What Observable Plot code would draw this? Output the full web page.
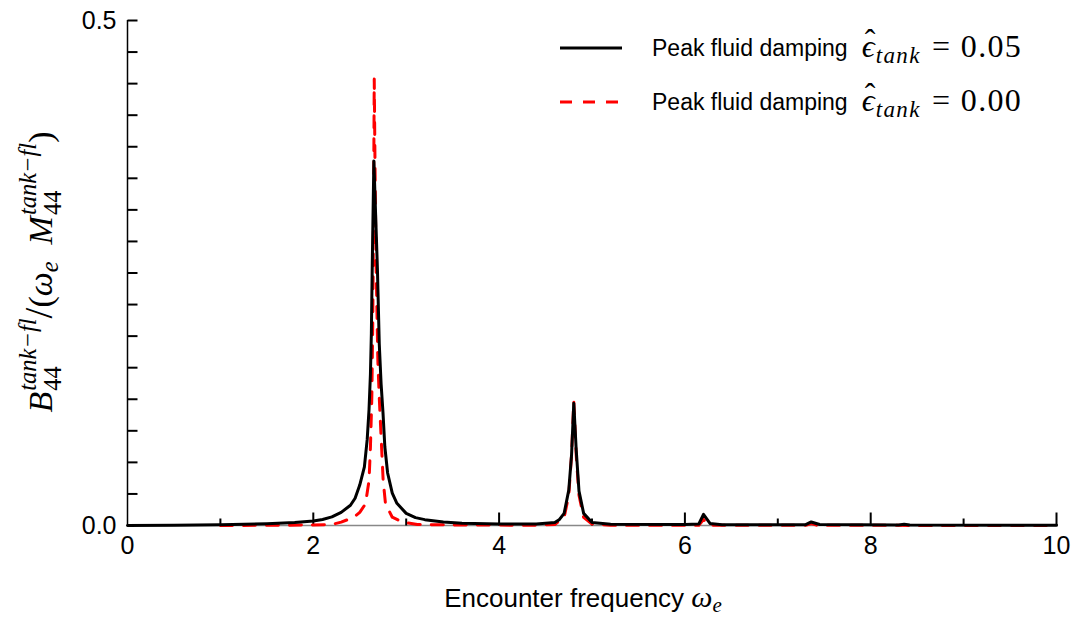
<!DOCTYPE html>
<html>
<head>
<meta charset="utf-8">
<script src="https://cdn.jsdelivr.net/npm/d3@7"></script>
<script src="https://cdn.jsdelivr.net/npm/@observablehq/plot@0.6"></script>
<style>
  body { margin: 0; background: #fff; }
  #wrap { position: relative; width: 1077px; height: 617px; font-family: "Liberation Sans", Arial, sans-serif; color: #000; }
  .math { font-family: "Liberation Serif", "DejaVu Serif", serif; }
  .it { font-style: italic; }
  .ss { display: inline-block; vertical-align: -0.36em; font-size: 0.72em; line-height: 1.0; text-align: left; margin-left: 1px; }
  .ss span { display: block; }
  .sub { font-size: 0.72em; vertical-align: -0.25em; }
  .hat { position: relative; display: inline-block; }
  .hat::after { content: "ˆ"; position: absolute; left: 0.1em; top: -0.18em; font-style: normal; }
  #ylabel { position: absolute; left: 41px; top: 272px; transform: translate(-50%, -50%) rotate(-90deg); white-space: nowrap; font-size: 34px; }
  #xlabel { position: absolute; left: 583px; top: 584px; transform: translateX(-50%); white-space: nowrap; font-size: 26px; line-height: 26px; }
  .leg { position: absolute; left: 558px; white-space: nowrap; font-size: 23px; display: flex; align-items: center; }
  .leg svg { margin-right: 28px; }
  .gap { display: inline-block; width: 14px; }
  .lm { font-size: 32px; letter-spacing: 1.3px; }
  .eq { margin: 0 0.3em 0 0.35em; }
</style>
</head>
<body>
<div id="wrap"></div>
<script>
// Encounter frequency (x) and damping coefficient (y) for the damped tank (epsilon = 0.05)
const xDamped = [0, 0.5, 1.0, 1.5, 1.8, 2.0, 2.1, 2.2, 2.3, 2.4, 2.45, 2.5, 2.55, 2.58, 2.6, 2.615, 2.625, 2.635, 2.652, 2.67, 2.69, 2.71, 2.73, 2.75, 2.77, 2.8, 2.85, 2.9, 3.0, 3.1, 3.2, 3.4, 3.6, 4.0, 4.4, 4.6, 4.65, 4.7, 4.75, 4.78, 4.804, 4.83, 4.86, 4.91, 5.0, 5.2, 6.0, 6.15, 6.2, 6.27, 6.4, 7.3, 7.36, 7.45, 8.3, 8.36, 8.42, 10];
const yDamped = [0, 0.0003, 0.0008, 0.0018, 0.003, 0.0045, 0.006, 0.0085, 0.013, 0.020, 0.027, 0.040, 0.058, 0.085, 0.115, 0.15, 0.19, 0.26, 0.361, 0.31, 0.255, 0.18, 0.14, 0.112, 0.078, 0.052, 0.032, 0.022, 0.012, 0.0078, 0.0058, 0.0035, 0.0022, 0.0015, 0.0015, 0.003, 0.006, 0.012, 0.035, 0.07, 0.121, 0.075, 0.034, 0.012, 0.003, 0.0012, 0.001, 0.0015, 0.011, 0.002, 0.0008, 0.0008, 0.0035, 0.001, 0.0005, 0.0012, 0.0005, 0.0003];

// Undamped tank (epsilon = 0.00)
const xUndamped = [1.0, 1.5, 2.0, 2.2, 2.3, 2.436, 2.5, 2.562, 2.6, 2.615, 2.63, 2.64, 2.648, 2.656, 2.664, 2.675, 2.695, 2.71, 2.735, 2.752, 2.777, 2.85, 2.96, 3.12, 3.5, 4.4, 4.6, 4.7, 4.75, 4.78, 4.804, 4.83, 4.86, 4.91, 5.0, 5.2, 6.15, 6.2, 6.25, 7.3, 7.36, 7.42, 10];
const yUndamped = [0, 0.0002, 0.0005, 0.001, 0.0033, 0.0082, 0.013, 0.0215, 0.0446, 0.0776, 0.127, 0.2, 0.3, 0.442, 0.36, 0.262, 0.163, 0.127, 0.0776, 0.0446, 0.0215, 0.0082, 0.0033, 0.001, 0.0005, 0.0003, 0.001, 0.008, 0.03, 0.07, 0.123, 0.07, 0.03, 0.008, 0.0015, 0.0003, 0.0003, 0.006, 0.0003, 0.0002, 0.002, 0.0002, 0];

const seriesNames = ["0.05", "0.00"];
const seriesColors = ["#000000", "#ff0000"];

const xMajorTicks = [0, 2, 4, 6, 8, 10];
const xMinorTicks = [1, 3, 5, 7, 9];
const yMinorTicks = [0.03125, 0.0625, 0.09375, 0.125, 0.15625, 0.1875, 0.21875, 0.25, 0.28125, 0.3125, 0.34375, 0.375, 0.40625, 0.4375, 0.46875, 0.5];
const yLabelTicks = [0, 0.5];

const damped = xDamped.map((x, i) => ({x, y: yDamped[i]}));
const undamped = xUndamped.map((x, i) => ({x, y: yUndamped[i]}));

// frame geometry (px); inward tick lengths (px) converted to data units
const W = 1077, H = 617, mL = 127, mR = 21, mT = 20, mB = 92;
const xDomain = [0, 10], yDomain = [0, 0.5];
const pxX = (xDomain[1] - xDomain[0]) / (W - mL - mR);
const pxY = (yDomain[1] - yDomain[0]) / (H - mT - mB);
const xTickRows = [...xMajorTicks.filter(d => d > 0).map(v => ({v, len: 13})), ...xMinorTicks.map(v => ({v, len: 7}))];
const yTickRows = yMinorTicks.map(v => ({v, len: 10}));

const chart = Plot.plot({
  width: W,
  height: H,
  marginLeft: mL,
  marginRight: mR,
  marginTop: mT,
  marginBottom: mB,
  style: {fontFamily: "'Liberation Sans', Arial, sans-serif", fontSize: "25px", color: "#000", background: "#fff"},
  x: {domain: xDomain},
  y: {domain: yDomain},
  marks: [
    Plot.ruleY([0], {stroke: "#888", strokeWidth: 1.5}),
    Plot.link(xTickRows, {x1: d => d.v, x2: d => d.v, y1: d => 0, y2: d => d.len * pxY, stroke: "#000", strokeWidth: 2}),
    Plot.link(yTickRows, {y1: d => d.v, y2: d => d.v, x1: d => 0, x2: d => d.len * pxX, stroke: "#000", strokeWidth: 2}),
    Plot.axisX(xMajorTicks, {anchor: "bottom", tickSize: 0, tickPadding: 11, tickFormat: d => String(d), label: null, fontSize: 25}),
    Plot.axisY(yLabelTicks, {anchor: "left", tickSize: 0, tickPadding: 11, tickFormat: d => d.toFixed(1), label: null, fontSize: 25}),
    Plot.ruleX([0], {stroke: "#000", strokeWidth: 1.5}),
    Plot.line(undamped, {x: "x", y: "y", stroke: seriesColors[1], strokeWidth: 3, strokeDasharray: "12,11"}),
    Plot.line(damped, {x: "x", y: "y", stroke: seriesColors[0], strokeWidth: 3})
  ]
});

const wrap = document.getElementById("wrap");
wrap.appendChild(chart);

// Axis labels
const yl = document.createElement("div");
yl.id = "ylabel";
yl.className = "math";
yl.innerHTML = '<span class="it">B</span><span class="ss"><span class="it">tank−fl</span><span>44</span></span><span style="font-size:1.15em">/</span>(<span class="it">ω</span><span class="sub it">e</span>&nbsp;&nbsp;<span class="it">M</span><span class="ss"><span class="it">tank−fl</span><span>44</span></span>)';
wrap.appendChild(yl);

const xl = document.createElement("div");
xl.id = "xlabel";
xl.innerHTML = 'Encounter frequency <span class="math it" style="font-size:30px">ω</span><span class="math sub it" style="font-size:21px">e</span>';
wrap.appendChild(xl);

// Legend
const legTops = [48, 102];
seriesNames.forEach((name, i) => {
  const d = document.createElement("div");
  d.className = "leg";
  d.style.top = (legTops[i] - 18) + "px";
  d.style.height = "36px";
  const dash = i === 1 ? 'stroke-dasharray="12,11"' : '';
  d.innerHTML = `<svg width="66" height="10"><line x1="2" y1="5" x2="64" y2="5" stroke="${seriesColors[i]}" stroke-width="3" ${dash}/></svg>` +
    `<span>Peak fluid damping</span><span class="gap"></span><span class="math lm"><span class="it hat">ϵ</span><span class="sub it">tank</span><span class="eq">=</span>${name}</span>`;
  wrap.appendChild(d);
});
</script>
</body>
</html>
